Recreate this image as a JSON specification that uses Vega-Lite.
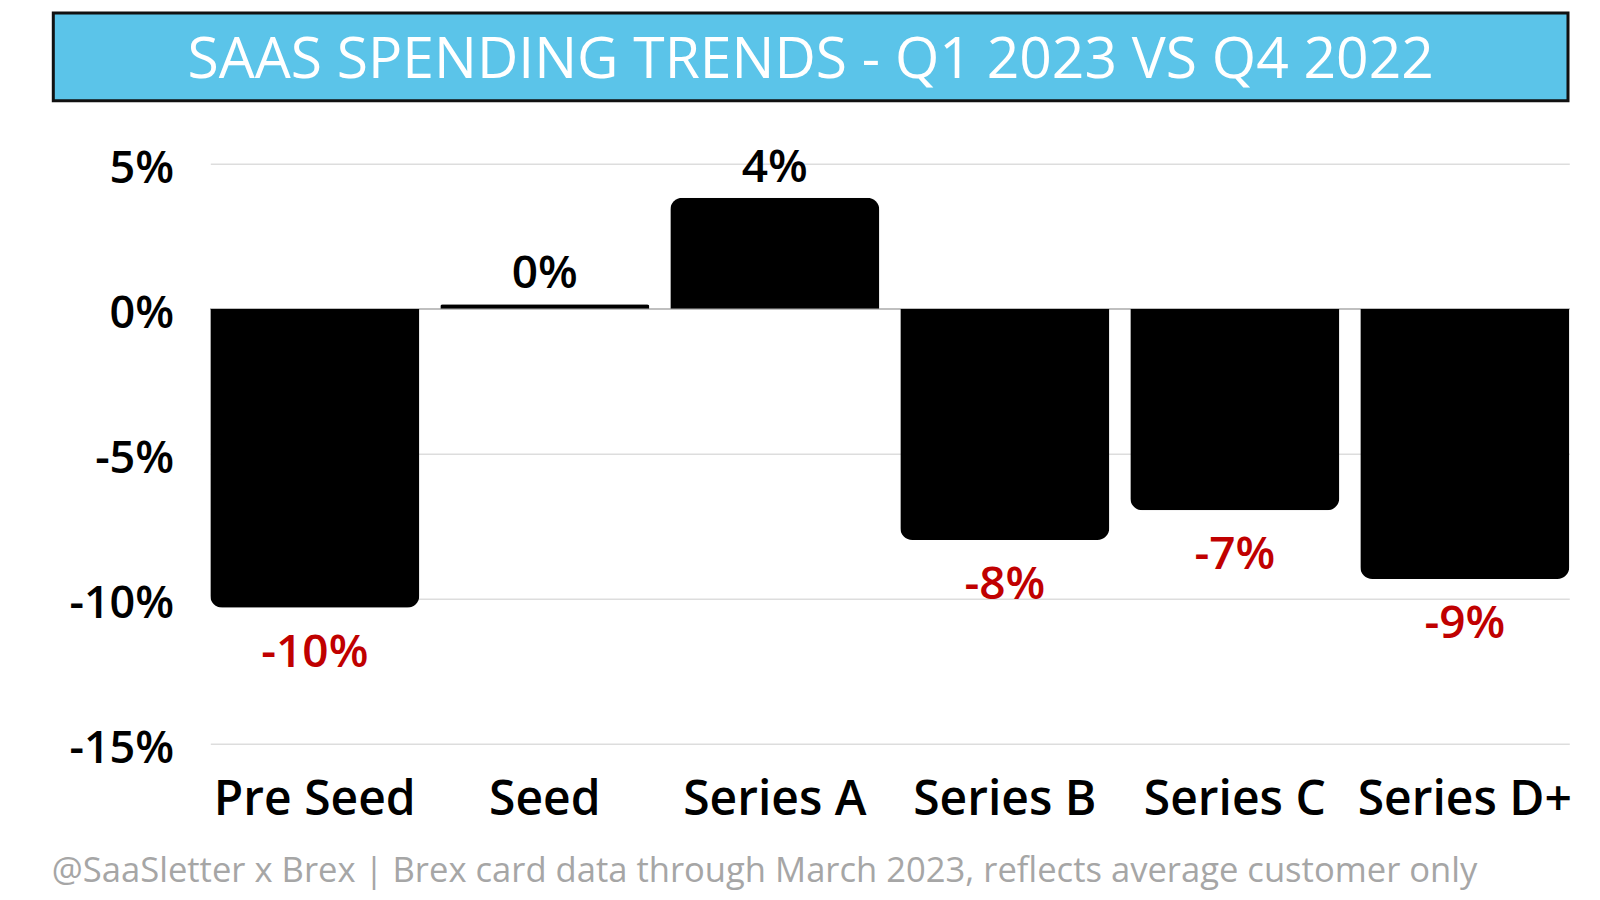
{
  "$schema": "https://vega.github.io/schema/vega-lite/v6.json",
  "background": "white",
  "padding": {"left": 51.3, "top": 11, "right": 0, "bottom": 12},
  "autosize": {"type": "pad"},
  "config": {
    "font": "Open Sans",
    "view": {"stroke": null},
    "locale": {"number": {"decimal": ".", "thousands": ",", "grouping": [3], "currency": ["$", ""], "minus": "-"}}
  },
  "title": {
    "text": "@SaaSletter x Brex | Brex card data through March 2023, reflects average customer only",
    "orient": "bottom",
    "anchor": "start",
    "offset": 30,
    "font": "Open Sans",
    "fontSize": 34.6,
    "fontWeight": 500,
    "color": "#a6a6a6",
    "limit": 0
  },
  "datasets": {
    "stages": [
      {"stage": "Pre Seed", "value": -0.1031},
      {"stage": "Seed", "value": 0.0015},
      {"stage": "Series A", "value": 0.0383},
      {"stage": "Series B", "value": -0.0798},
      {"stage": "Series C", "value": -0.0695},
      {"stage": "Series D+", "value": -0.0932}
    ]
  },
  "bounds": "flush",
  "spacing": 62.7,
  "vconcat": [
    {
      "width": 1514.7,
      "height": 87.7,
      "view": {"fill": "#5bc4e9", "stroke": "#111111", "strokeWidth": 3},
      "data": {"values": [{"title": "SAAS SPENDING TRENDS - Q1 2023 VS Q4 2022"}]},
      "mark": {"type": "text", "color": "white", "font": "Open Sans", "fontSize": 57, "fontWeight": 500, "align": "center", "baseline": "middle", "dy": 4},
      "encoding": {"text": {"field": "title"}}
    },
    {
      "bounds": "flush",
      "spacing": 0,
      "hconcat": [
        {
          "width": 156.2,
          "height": 580,
          "data": {"values": [{"blank": ""}]},
          "mark": {"type": "text"},
          "encoding": {"text": {"field": "blank"}}
        },
        {
          "width": 1359,
          "height": 580,
          "data": {"name": "stages"},
          "encoding": {
            "x": {
              "field": "stage", "type": "nominal",
              "scale": {"domain": ["Pre Seed", "Seed", "Series A", "Series B", "Series C", "Series D+"], "paddingInner": 0.0913, "paddingOuter": 0},
              "axis": {"orient": "bottom", "title": null, "labelAngle": 0, "labelLimit": 0, "ticks": false, "tickSize": 0, "domain": false, "labelPadding": 33, "labelFontSize": 48, "labelFont": "Open Sans", "labelFontWeight": 600, "labelColor": "black"}
            },
            "y": {
              "field": "value", "type": "quantitative",
              "scale": {"domain": [-0.15, 0.05], "nice": false, "zero": false},
              "axis": {"title": null, "values": [-0.15, -0.1, -0.05, 0, 0.05], "format": ".0%", "ticks": false, "tickSize": 0, "domain": false, "grid": true, "gridColor": "#dddddd", "gridWidth": 1.5, "labelPadding": 36.6, "labelFontSize": 45, "labelFont": "Open Sans", "labelFontWeight": 600, "labelColor": "black", "labelOffset": 5, "labelBaseline": "middle"}
            }
          },
          "layer": [
            {
              "mark": {"type": "rule", "color": "#bfbfbf", "strokeWidth": 1.5},
              "encoding": {"x": null, "y": {"datum": 0, "type": "quantitative"}}
            },
            {
              "transform": [{"filter": "datum.value >= 0"}],
              "mark": {"type": "bar", "color": "black", "cornerRadiusTopLeft": 12, "cornerRadiusTopRight": 12}
            },
            {
              "transform": [{"filter": "datum.value < 0"}],
              "mark": {"type": "bar", "color": "black", "cornerRadiusBottomLeft": 12, "cornerRadiusBottomRight": 12}
            },
            {
              "transform": [{"filter": "datum.value >= 0"}],
              "mark": {"type": "text", "color": "black", "fontSize": 46, "fontWeight": 600, "baseline": "middle", "dy": -30},
              "encoding": {
                "text": {"field": "value", "type": "quantitative", "format": ".0%"}
              }
            },
            {
              "transform": [{"filter": "datum.value < 0"}],
              "mark": {"type": "text", "color": "#c00000", "fontSize": 46, "fontWeight": 600, "baseline": "middle", "dy": 45},
              "encoding": {
                "text": {"field": "value", "type": "quantitative", "format": ".0%"}
              }
            }
          ]
        }
      ]
    }
  ]
}
